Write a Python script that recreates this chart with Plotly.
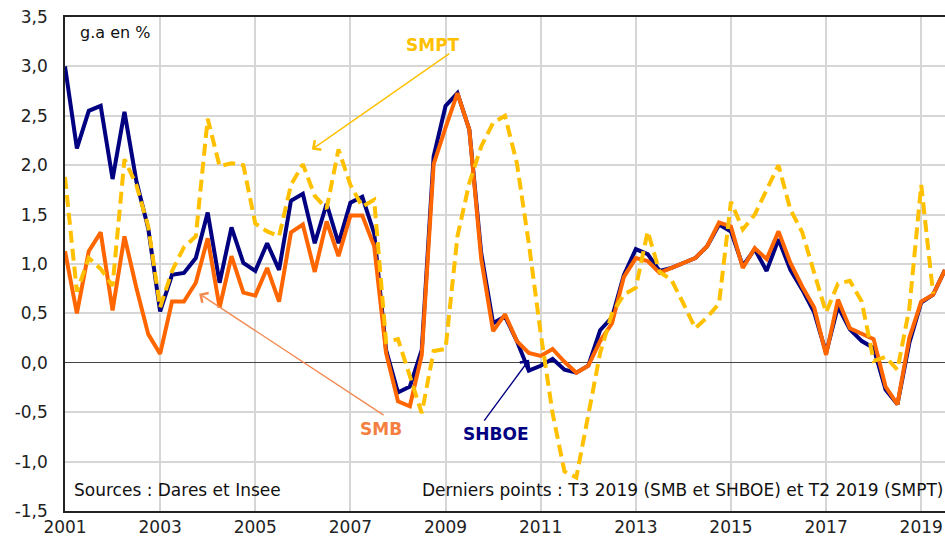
import pandas as pd
import plotly.graph_objects as go

# Quarterly periods 2001T1 .. 2019T3
quarters = pd.period_range("2001Q1", "2019Q3", freq="Q")
x_all = [p.year + (p.quarter - 1) / 4 for p in quarters]

shboe = [3.00, 2.17, 2.55, 2.60, 1.86, 2.54, 1.84, 1.36, 0.52, 0.89,
         0.91, 1.06, 1.52, 0.81, 1.37, 1.01, 0.93, 1.21, 0.94, 1.64,
         1.71, 1.21, 1.61, 1.21, 1.62, 1.68, 1.31, 0.13, -0.30, -0.24,
         0.13, 2.09, 2.60, 2.73, 2.36, 1.11, 0.40, 0.47, 0.22, -0.08,
         -0.03, 0.04, -0.07, -0.10, -0.03, 0.33, 0.46, 0.89, 1.15, 1.10,
         0.93, 0.96, 1.01, 1.06, 1.18, 1.40, 1.33, 0.98, 1.15, 0.93,
         1.25, 0.94, 0.74, 0.51, 0.10, 0.57, 0.34, 0.22, 0.15, -0.27,
         -0.42, 0.20, 0.61, 0.69, 0.94]

smb = [1.13, 0.50, 1.13, 1.32, 0.53, 1.28, 0.76, 0.29, 0.09, 0.62,
       0.62, 0.81, 1.26, 0.56, 1.08, 0.71, 0.68, 0.96, 0.62, 1.32,
       1.40, 0.92, 1.43, 1.08, 1.49, 1.49, 1.18, 0.10, -0.39, -0.44,
       0.08, 2.01, 2.38, 2.73, 2.36, 1.05, 0.32, 0.49, 0.22, 0.10,
       0.07, 0.14, 0.01, -0.10, -0.03, 0.22, 0.40, 0.87, 1.06, 1.03,
       0.91, 0.96, 1.01, 1.06, 1.18, 1.42, 1.38, 0.96, 1.16, 1.05,
       1.33, 1.01, 0.77, 0.56, 0.08, 0.64, 0.35, 0.29, 0.24, -0.24,
       -0.42, 0.25, 0.62, 0.69, 0.94]

smpt = [1.88, 0.72, 1.06, 0.95, 0.78, 2.06, 1.80, 1.38, 0.56, 0.93,
        1.17, 1.28, 2.47, 1.99, 2.02, 2.00, 1.41, 1.33, 1.28, 1.80,
        2.01, 1.69, 1.56, 2.16, 1.80, 1.58, 1.65, 0.21, 0.24, -0.15,
        -0.51, 0.12, 0.14, 1.28, 1.82, 2.19, 2.43, 2.50, 2.02, 1.21,
        0.30, -0.51, -1.10, -1.16, -0.51, 0.10, 0.50, 0.69, 0.76, 1.33,
        0.92, 0.84, 0.60, 0.35, 0.46, 0.60, 1.63, 1.35, 1.50, 1.76,
        2.00, 1.55, 1.32, 0.91, 0.51, 0.80, 0.83, 0.62, 0.02, 0.06,
        -0.07, 0.55, 1.80, 0.70]

x_ticks = [2001, 2003, 2005, 2007, 2009, 2011, 2013, 2015, 2017, 2019]
x_ticktext = [str(v) for v in x_ticks]
y_ticks = [-1.5, -1.0, -0.5, 0.0, 0.5, 1.0, 1.5, 2.0, 2.5, 3.0, 3.5]
y_ticktext = ["-1,5", "-1,0", "-0,5", "0,0", "0,5", "1,0", "1,5", "2,0", "2,5", "3,0", "3,5"]

NAVY = "#000080"
ORANGE = "#FF6600"
GOLD = "#FFC000"
FONT = "DejaVu Sans"

fig = go.Figure()
fig.add_trace(go.Scatter(x=x_all, y=shboe, mode="lines", name="SHBOE",
                         line=dict(color=NAVY, width=4)))
fig.add_trace(go.Scatter(x=x_all, y=smb, mode="lines", name="SMB",
                         line=dict(color=ORANGE, width=4)))
fig.add_trace(go.Scatter(x=x_all[:len(smpt)], y=smpt, mode="lines", name="SMPT",
                         line=dict(color=GOLD, width=4, dash="12px,6px")))

annotations = [
    # arrows
    dict(x=2006.19, y=2.16, ax=2009.11, ay=3.14, axref="x", ayref="y",
         xref="x", yref="y", text="", showarrow=True, arrowhead=4,
         arrowsize=1.6, arrowwidth=1.4, arrowcolor=GOLD),
    dict(x=2003.82, y=0.70, ax=2007.73, ay=-0.54, axref="x", ayref="y",
         xref="x", yref="y", text="", showarrow=True, arrowhead=4,
         arrowsize=1.6, arrowwidth=1.4, arrowcolor="#F28A50"),
    dict(x=2010.755, y=0.03, ax=2009.79, ay=-0.60, axref="x", ayref="y",
         xref="x", yref="y", text="", showarrow=True, arrowhead=4,
         arrowsize=1.6, arrowwidth=1.4, arrowcolor=NAVY),
    # labels
    dict(x=2008.74, y=3.22, xref="x", yref="y", text="<b>SMPT</b>", showarrow=False,
         font=dict(family=FONT, size=17, color=GOLD)),
    dict(x=2007.64, y=-0.675, xref="x", yref="y", text="<b>SMB</b>", showarrow=False,
         font=dict(family=FONT, size=17, color="#F47F3F")),
    dict(x=2010.06, y=-0.725, xref="x", yref="y", text="<b>SHBOE</b>", showarrow=False,
         font=dict(family=FONT, size=17, color=NAVY)),
    # texts
    dict(x=0.0148, y=0.968, xref="paper", yref="paper", xanchor="left", yanchor="middle",
         text="g.a en %", showarrow=False, font=dict(family=FONT, size=16, color="#111")),
    dict(x=0.008, y=0.0425, xref="paper", yref="paper", xanchor="left", yanchor="middle",
         text="Sources : Dares et Insee", showarrow=False,
         font=dict(family=FONT, size=17, color="#111")),
    dict(x=1.0, y=0.0425, xref="paper", yref="paper", xanchor="right", yanchor="middle",
         text="Derniers points : T3 2019 (SMB et SHBOE) et T2 2019 (SMPT)", showarrow=False,
         font=dict(family=FONT, size=17, color="#111")),
]

fig.update_layout(
    width=945, height=541,
    margin=dict(l=65, r=0, t=17, b=30),
    paper_bgcolor="white", plot_bgcolor="white",
    showlegend=False,
    font=dict(family=FONT, size=17, color="#222"),
    annotations=annotations,
)
fig.update_xaxes(
    range=[2001, 2019.5], tickvals=x_ticks, ticktext=x_ticktext,
    showgrid=True, gridcolor="#D6D6D6", gridwidth=1.5, zeroline=False,
    showline=True, linecolor="#222", linewidth=1.5, mirror=True,
    ticks="", tickfont=dict(family=FONT, size=17, color="#222"),
)
fig.update_yaxes(
    range=[-1.5, 3.5], tickvals=y_ticks, ticktext=y_ticktext,
    showgrid=True, gridcolor="#D6D6D6", gridwidth=1.5,
    zeroline=True, zerolinecolor="#444", zerolinewidth=1.2,
    showline=True, linecolor="#222", linewidth=1.5, mirror=False,
    ticks="", ticklabelstandoff=12, tickfont=dict(family=FONT, size=17, color="#222"),
)

fig.write_html(
    "out.html",
    config={"displayModeBar": False},
    post_script="document.body.style.margin='0';document.body.style.overflow='hidden';",
)
